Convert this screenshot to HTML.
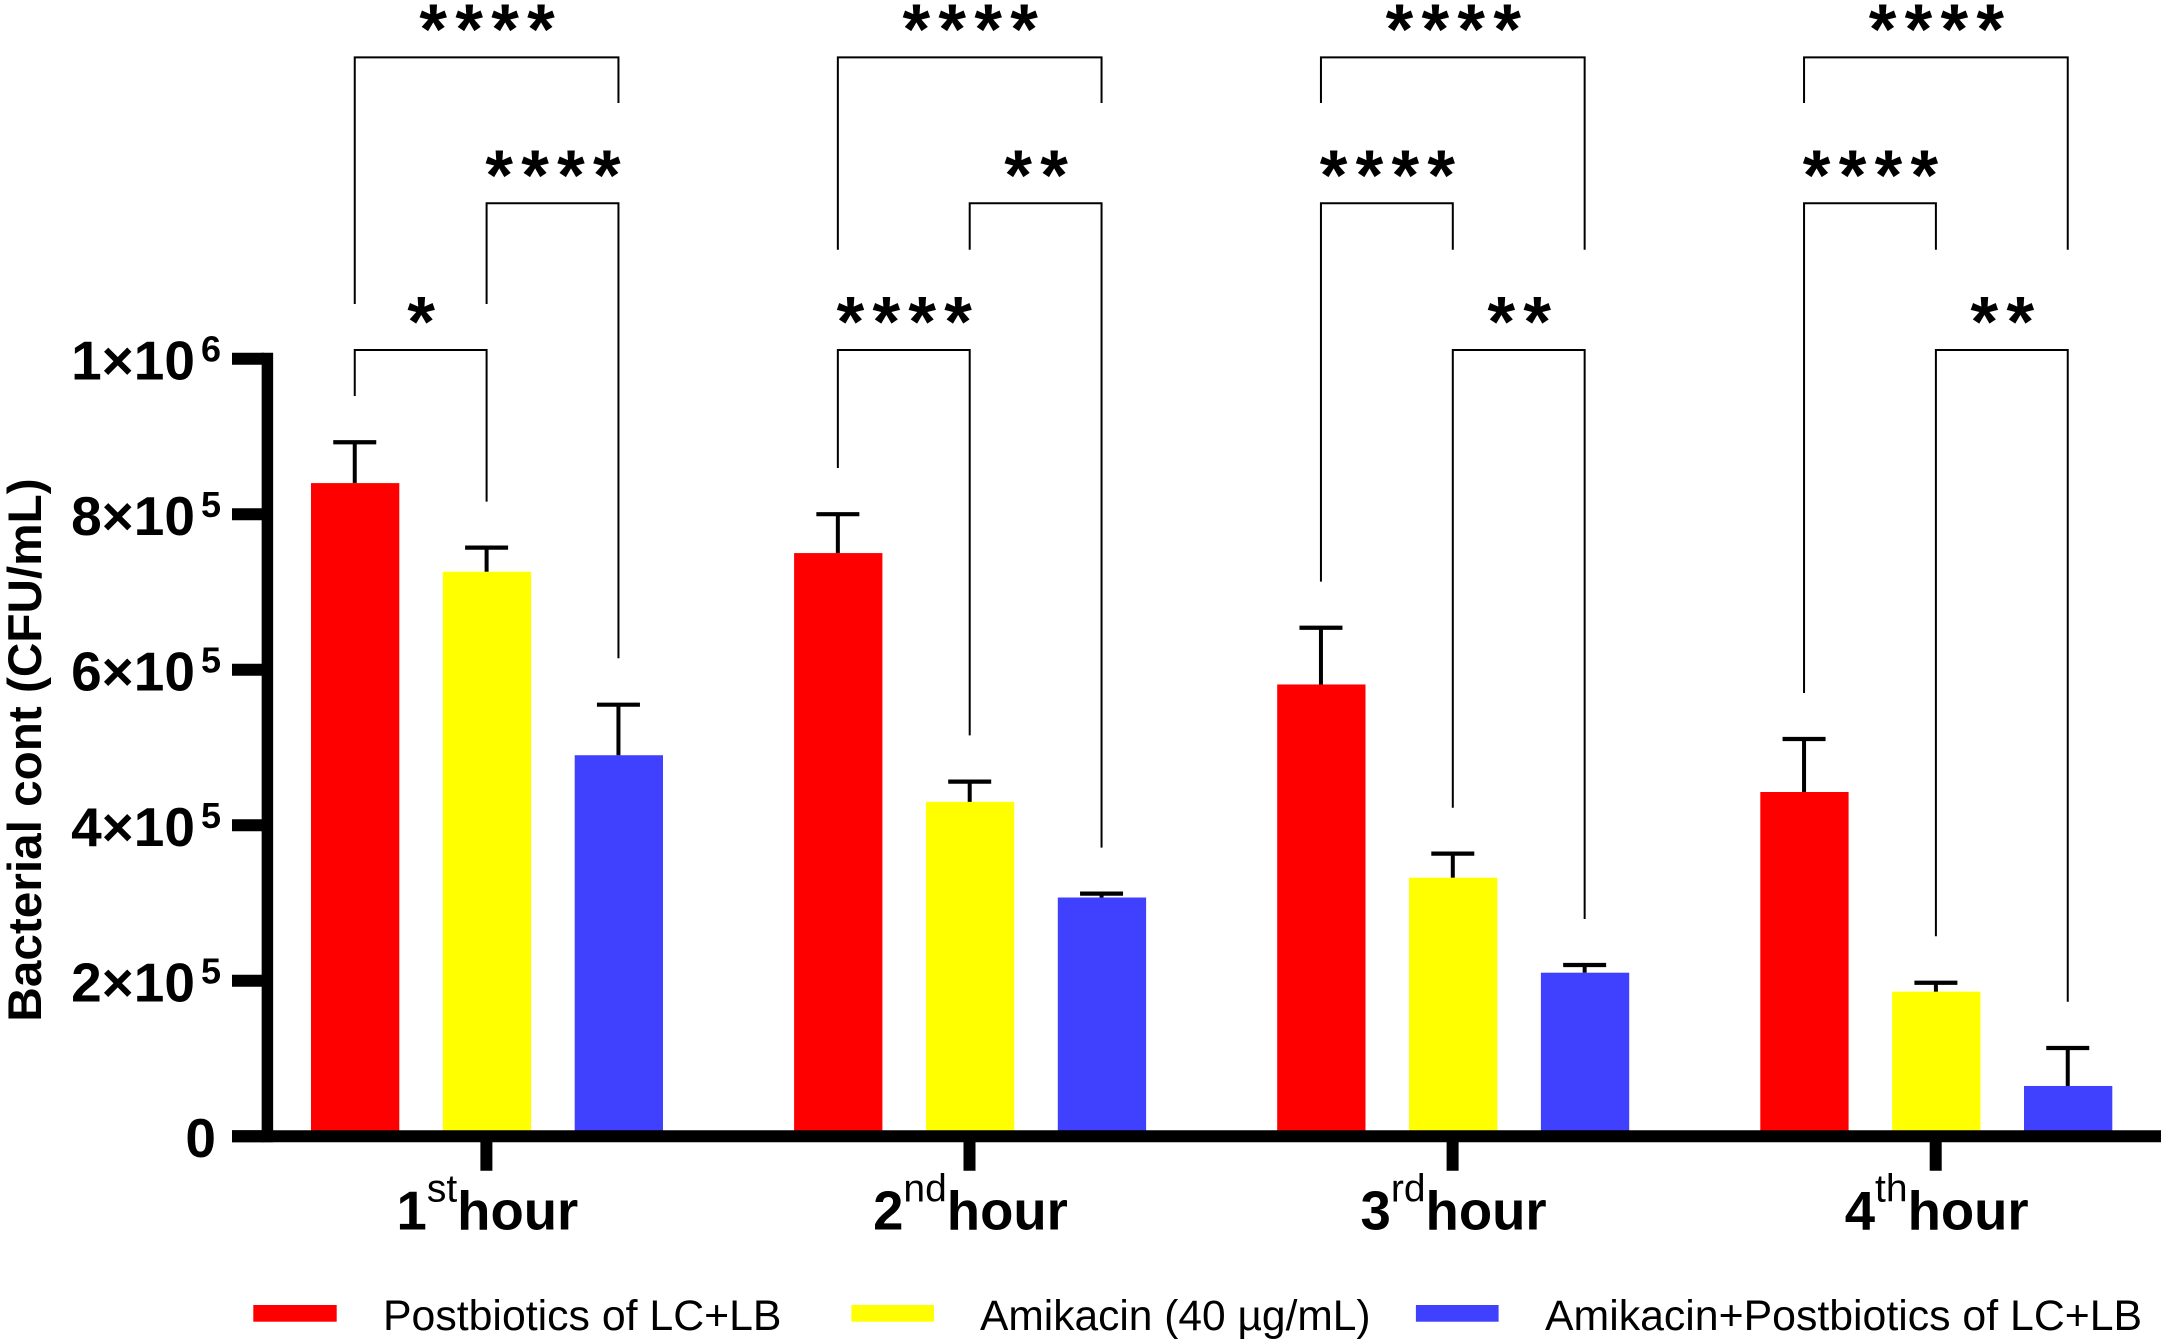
<!DOCTYPE html>
<html lang="en">
<head>
<meta charset="utf-8">
<title>Bacterial count by hour</title>
<style>
html,body{margin:0;padding:0;background:#fff;width:2166px;height:1343px;overflow:hidden}
svg{display:block;font-family:"Liberation Sans",Arial,sans-serif}
</style>
</head>
<body>
<svg id="chart" xmlns="http://www.w3.org/2000/svg" width="2166" height="1343" viewBox="0 0 2166 1343">
  <rect x="0" y="0" width="2166" height="1343" fill="#ffffff"/>
  <g id="bars"></g>
  <g id="errors"></g>
  <g id="brackets"></g>
  <g id="axes"></g>
  <text transform="translate(41,750) rotate(-90)" text-anchor="middle" font-size="47.7" font-weight="700" fill="#000">Bacterial cont (CFU/mL)</text>
  <g>
    <rect x="253.3" y="1305" width="83.4" height="16.7" fill="#ff0000"/>
    <text x="383" y="1330" font-size="42.8" fill="#000">Postbiotics of LC+LB</text>
    <rect x="851.4" y="1305" width="82.6" height="16.7" fill="#ffff00"/>
    <text x="980" y="1330" font-size="42.5" fill="#000">Amikacin (40 µg/mL)</text>
    <rect x="1415.9" y="1305" width="82.7" height="16.7" fill="#4040ff"/>
    <text x="1545" y="1330" font-size="42.8" fill="#000">Amikacin+Postbiotics of LC+LB</text>
  </g>
</svg>
<script>
/* ---- data ---- */
const categoryOrdinals = ['1', '2', '3', '4'];
const categorySuffixes = ['st', 'nd', 'rd', 'th'];
const seriesColors = ['#ff0000', '#ffff00', '#4040ff'];
const postbioticsMeans = [840000, 750000, 581000, 442700];
const amikacinMeans = [726000, 430000, 332500, 185900];
const combinationMeans = [490000, 307000, 210300, 64600];
const postbioticsUpper = [892500, 800000, 654000, 510900];
const amikacinUpper = [757000, 456000, 363400, 197400];
const combinationUpper = [555000, 312000, 220200, 113400];
const yTickValues = [0, 200000, 400000, 600000, 800000, 1000000];
const yTickBases = ['0', '2×10', '4×10', '6×10', '8×10', '1×10'];
const yTickExponents = ['', '5', '5', '5', '5', '6'];

/* brackets: group, from-series, to-series, level value, left end value, right end value, label */
const bracketGroups = [0,0,0, 1,1,1, 2,2,2, 3,3,3];
const bracketFrom = [0,1,0, 0,1,0, 0,0,1, 0,0,1];
const bracketTo = [2,2,1, 2,2,1, 2,1,2, 2,1,2];
const bracketLevels = [1387600,1199900,1011200, 1387600,1199900,1011200, 1387600,1199900,1011200, 1387600,1199900,1011200];
const bracketLeftEnds = [1070400,1070400,952000, 1140200,1140200,859400, 1328900,713200,422500, 1328900,570000,257100];
const bracketRightEnds = [1328900,614700,816100, 1328900,371100,515600, 1140200,1140200,279400, 1140200,1140200,173000];
const bracketLabels = ['****','****','*', '****','**','****', '****','****','**', '****','****','**'];

const seriesMeans = [postbioticsMeans, amikacinMeans, combinationMeans];
const seriesUpper = [postbioticsUpper, amikacinUpper, combinationUpper];

/* ---- axis functions ---- */
const Y_ZERO = 1136.2, Y_PER_UNIT = 777.5 / 1000000;
const BAR_W = 88.3;
function yScale(v) { return Y_ZERO - v * Y_PER_UNIT; }
function barLeft(g, s) { return 311 + 483.1 * g + 131.85 * s; }
function barCenter(g, s) { return barLeft(g, s) + BAR_W / 2 - 0.4; }
function groupCenter(g) { return barLeft(g, 1) + BAR_W / 2 - 0.6; }

const NS = 'http://www.w3.org/2000/svg';
function make(tag, attrs, parent) {
  const el = document.createElementNS(NS, tag);
  for (const k in attrs) el.setAttribute(k, attrs[k]);
  parent.appendChild(el);
  return el;
}

const barsG = document.getElementById('bars');
const errorsG = document.getElementById('errors');
const bracketsG = document.getElementById('brackets');
const axesG = document.getElementById('axes');

/* bars and error bars */
seriesMeans.forEach(function (means, s) {
  means.forEach(function (v, g) {
    const bar = make('rect', {x: barLeft(g, s), y: yScale(v), width: BAR_W, height: Y_ZERO - yScale(v), fill: seriesColors[s]}, barsG);
    
    
    const cx = barCenter(g, s);
    const top = yScale(seriesUpper[s][g]);
    const stem = make('line', {x1: cx, x2: cx, y1: yScale(v), y2: top, stroke: '#000', 'stroke-width': 4}, errorsG);
    
    
    const cap = make('line', {x1: cx - 21.5, x2: cx + 21.5, y1: top, y2: top, stroke: '#000', 'stroke-width': 4.2}, errorsG);
    
    
  });
});

/* significance brackets */
bracketLabels.forEach(function (label, i) {
  const g = bracketGroups[i];
  const x1 = barCenter(g, bracketFrom[i]);
  const x2 = barCenter(g, bracketTo[i]);
  const yL = yScale(bracketLevels[i]);
  const path = make('polyline', {
    points: x1 + ',' + yScale(bracketLeftEnds[i]) + ' ' + x1 + ',' + yL + ' ' + x2 + ',' + yL + ' ' + x2 + ',' + yScale(bracketRightEnds[i]),
    fill: 'none', stroke: '#000', 'stroke-width': 2
  }, bracketsG);
  
  
  const mid = (x1 + x2) / 2 + 0.5;
  const xs = [];
  for (let k = 0; k < label.length; k++) xs.push(mid + (k - (label.length - 1) / 2) * 35.9);
  const t = make('text', {x: xs.join(' '), y: yL - 4, 'text-anchor': 'middle', 'font-size': 71, 'font-weight': 700, fill: '#000'}, bracketsG);
  
  
  t.textContent = label;
});

/* axes */
const yLine = make('line', {x1: 267.4, x2: 267.4, y1: yScale(1000000) - 6, y2: Y_ZERO + 6, stroke: '#000', 'stroke-width': 11.5}, axesG);


const xLine = make('line', {x1: 232, x2: 2161, y1: Y_ZERO, y2: Y_ZERO, stroke: '#000', 'stroke-width': 12}, axesG);



yTickValues.forEach(function (v, i) {
  const y = yScale(v);
  const tick = make('line', {x1: 232, x2: 264, y1: y, y2: y, stroke: '#000', 'stroke-width': 12}, axesG);
  
  
  const t = make('text', {x: yTickExponents[i] ? 221 : 216, y: y + 21, 'text-anchor': 'end', 'font-size': 55, 'font-weight': 700, fill: '#000'}, axesG);
  
  
  const base = make('tspan', {}, t);
  base.textContent = yTickBases[i];
  if (yTickExponents[i]) {
    const sup = make('tspan', {dx: 6, dy: -18, 'font-size': 36}, t);
    sup.textContent = yTickExponents[i];
  }
});

categoryOrdinals.forEach(function (ord, g) {
  const cx = groupCenter(g);
  const tick = make('line', {x1: cx, x2: cx, y1: Y_ZERO + 5, y2: 1170.7, stroke: '#000', 'stroke-width': 12}, axesG);
  
  
  const t = make('text', {x: cx + 1, y: 1229.3, 'text-anchor': 'middle', 'font-size': 54.5, 'font-weight': 700, fill: '#000'}, axesG);
  
  
  const a = make('tspan', {}, t);
  a.textContent = ord;
  const b = make('tspan', {dy: -27.6, 'font-size': 39, 'font-weight': 400}, t);
  b.textContent = categorySuffixes[g];
  const c = make('tspan', {dy: 27.6}, t);
  c.textContent = 'hour';
});
</script>
</body>
</html>
